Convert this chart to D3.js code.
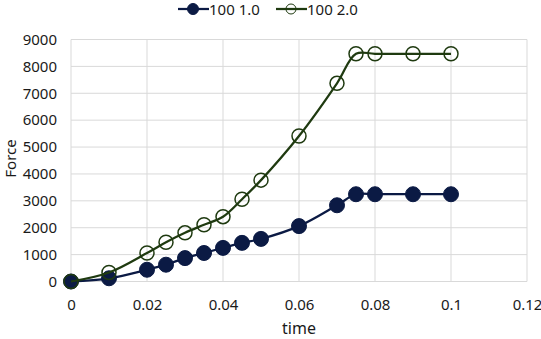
<!DOCTYPE html>
<html><head><meta charset="utf-8">
<script src="https://cdn.jsdelivr.net/npm/d3@7"></script>
<style>
html,body{margin:0;padding:0;background:#fff;}
svg{display:block;font-family:"Noto Sans",sans-serif;}
</style></head>
<body><svg id="c" width="541" height="339"></svg>
<script>
const times = [0,0.01,0.02,0.025,0.03,0.035,0.04,0.045,0.05,0.06,0.07,0.075,0.08,0.09,0.1];
const series1 = [0,120,437,625,870,1060,1250,1437,1585,2060,2835,3245,3245,3245,3245];
const series2 = [0,335,1060,1460,1810,2110,2410,3060,3770,5410,7370,8470,8470,8470,8470];
const seriesNames = ["100 1.0","100 2.0"];
const xTicks = [0,0.02,0.04,0.06,0.08,0.1,0.12];
const xTickLabels = ["0","0.02","0.04","0.06","0.08","0.1","0.12"];
const yTicks = [0,1000,2000,3000,4000,5000,6000,7000,8000,9000];

const svg = d3.select("#c");
const m = {l:71, r:527, t:39.5, b:281.5};
const x = d3.scaleLinear().domain([0,0.12]).range([m.l,m.r]);
const y = d3.scaleLinear().domain([0,9000]).range([m.b,m.t]);
const grid = "#d9d9d9";
const txt = "#1a1a1a";

// gridlines
svg.append("g").selectAll("line").data(yTicks).join("line")
  .attr("x1",m.l).attr("x2",m.r).attr("y1",d=>y(d)).attr("y2",d=>y(d))
  .attr("stroke",grid).attr("stroke-width",1);
svg.append("g").selectAll("line").data(xTicks).join("line")
  .attr("y1",m.t).attr("y2",m.b).attr("x1",d=>x(d)).attr("x2",d=>x(d))
  .attr("stroke",grid).attr("stroke-width",1);

// axes labels
const yAxis = d3.axisLeft(y).tickValues(yTicks).tickSize(0).tickPadding(14).tickFormat(d3.format("d"));
const gy = svg.append("g").attr("transform",`translate(${m.l},0)`).call(yAxis);
gy.select(".domain").remove();
gy.selectAll("text").attr("font-size",15).attr("fill",txt).attr("font-family","Noto Sans");

const xAxis = d3.axisBottom(x).tickValues(xTicks).tickSize(0).tickPadding(18).tickFormat((d,i)=>xTickLabels[i]);
const gx = svg.append("g").attr("transform",`translate(0,${m.b})`).call(xAxis);
gx.select(".domain").remove();
gx.selectAll("text").attr("font-size",15).attr("fill",txt).attr("font-family","Noto Sans");

svg.append("text").attr("x",(m.l+m.r)/2).attr("y",334).attr("text-anchor","middle")
  .attr("font-size",16).attr("fill",txt).text("time");
svg.append("text").attr("transform",`translate(16,${(m.t+m.b)/2-2}) rotate(-90)`).attr("text-anchor","middle")
  .attr("font-size",15).attr("fill",txt).text("Force");

const colors = ["#0b1a44","#1f3a10"];
const line = d3.line().x(d=>x(d[0])).y(d=>y(d[1])).curve(d3.curveCatmullRom.alpha(0.5));
const data = [series1, series2];
data.forEach((s,i)=>{
  const pts = times.map((t,j)=>[t,s[j]]);
  svg.append("path").attr("d",line(pts)).attr("fill","none").attr("stroke",colors[i]).attr("stroke-width",2.25);
  svg.append("g").selectAll("circle").data(pts).join("circle")
    .attr("cx",d=>x(d[0])).attr("cy",d=>y(d[1])).attr("r",i===0?7.5:7)
    .attr("fill",i===0?colors[0]:"none").attr("stroke",colors[i]).attr("stroke-width",i===0?1:1.5);
});

// legend
const lg = svg.append("g");
const items = [{x0:178},{x0:276}];
seriesNames.forEach((n,i)=>{
  const x0 = items[i].x0;
  lg.append("line").attr("x1",x0).attr("x2",x0+31).attr("y1",9).attr("y2",9).attr("stroke",colors[i]).attr("stroke-width",2.25);
  lg.append("circle").attr("cx",x0+15).attr("cy",9).attr("r",i===0?5.5:5)
    .attr("fill",i===0?colors[0]:"none").attr("stroke",colors[i]).attr("stroke-width",1);
  lg.append("text").attr("x",x0+31).attr("y",14.5).attr("font-size",15).attr("fill",txt).text(n);
});
</script></body></html>
